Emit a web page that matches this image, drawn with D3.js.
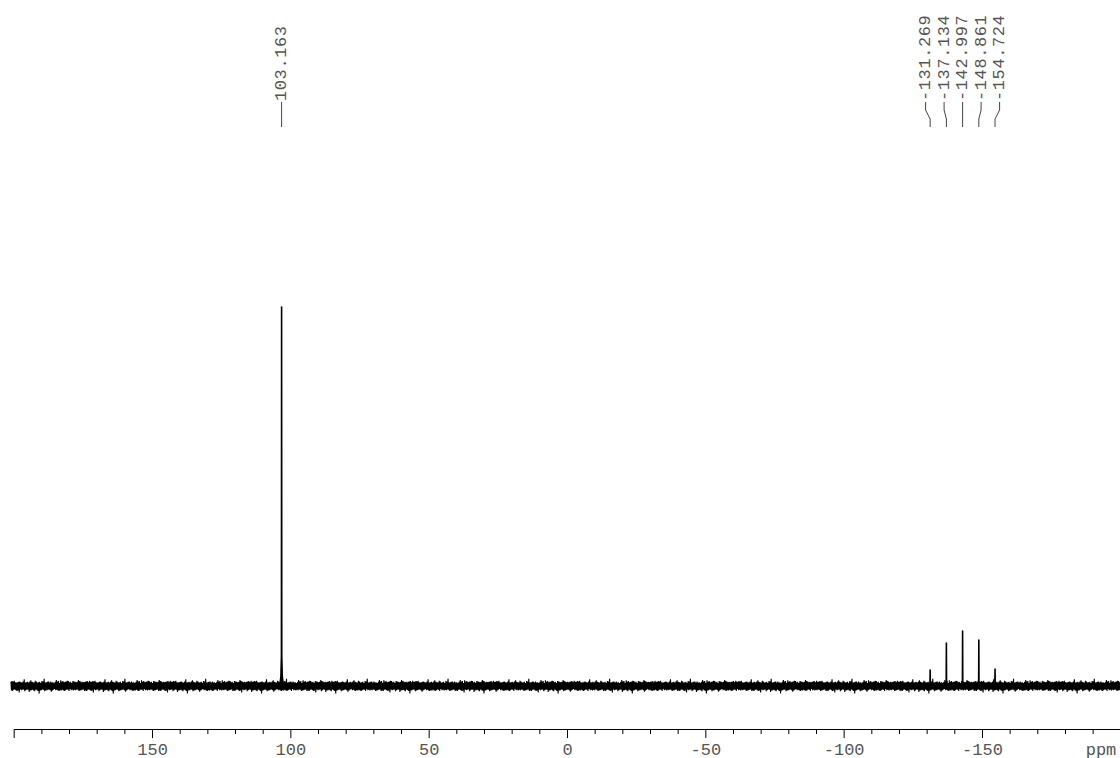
<!DOCTYPE html>
<html>
<head>
<meta charset="utf-8">
<script src="https://cdn.jsdelivr.net/npm/d3@7"></script>
<style>
  html, body { margin: 0; padding: 0; background: #fff; }
  svg { display: block; }
  .lbl { font-family: "Liberation Mono", "DejaVu Sans Mono", monospace; font-size: 17px; fill: #555; }
  .plbl { letter-spacing: 0.6px; }
</style>
</head>
<body>
<svg id="chart" width="1120" height="758"></svg>
<script>
// 13C spectrum: peak shifts (ppm) and relative intensities (tallest = 100)
const peakPpm = [103.163, -131.269, -137.134, -142.997, -148.861, -154.724];
const peakIntensity = [100, 4.2, 11.3, 14.5, 12.1, 4.5];

// axis tick values and their labels
const majorTicks = [200, 150, 100, 50, 0, -50, -100, -150];
const majorTickLabels = ["", "150", "100", "50", "0", "-50", "-100", "-150"];
const axisUnit = "ppm";

// baseline noise envelope (relative intensity units), upper and lower excursions
const noiseUp = [1.1,0.9,1.3,1.0,1.2,0.8,1.4,1.1,1.0,1.6,0.9,1.2,1.0,1.3,1.1,0.8,1.2,1.5,1.0,1.1,
  0.9,1.3,1.2,1.0,1.8,1.1,0.9,1.2,1.0,1.4,1.1,1.3,0.9,1.0,1.2,1.1,1.5,0.8,1.1,1.3,
  1.0,1.2,0.9,1.1,1.4,1.0,1.2,1.1,0.9,1.6,1.0,1.3,1.1,1.2,0.8,1.0,1.3,1.1,1.2,1.0,
  1.9,1.1,0.9,1.2,1.0,1.3,1.1,1.0,1.2,1.4,0.9,1.1,1.2];
const noiseDown = [1.0,1.2,0.9,1.3,1.1,1.0,1.5,0.9,1.2,1.1,1.0,1.3,0.8,1.2,1.1,1.7,1.0,0.9,1.2,1.1,
  1.3,1.0,1.1,0.9,1.2,1.4,1.0,1.1,1.2,0.9,1.3,1.0,1.1,1.6,0.9,1.2,1.0,1.1,1.3,1.0,
  0.8,1.2,1.1,1.4,1.0,0.9,1.2,1.1,1.0,1.3,1.1,2.0,0.9,1.2,1.0,1.1,1.3,0.9,1.2,1.0,
  1.1,1.4,1.0,1.2,0.9,1.1,1.3];

const svg = d3.select("#chart");

// scales: chemical shift decreases to the right
const x = d3.scaleLinear().domain([200, -200]).range([13.7, 1120.3]);
const y = d3.scaleLinear().domain([0, 100]).range([686, 307]);

// ---- baseline noise drawn as a dense zigzag trace ----
const step = 0.2;               // ppm between trace points
const noisePts = [];
let k = 0;
for (let p = 201; p >= -201; p -= step, k++) {
  const v = (k % 2 === 0) ? noiseUp[k % noiseUp.length] : -noiseDown[k % noiseDown.length];
  noisePts.push([p, v]);
}
const line = d3.line().x(d => x(d[0])).y(d => y(d[1]));
svg.append("path")
  .attr("d", line(noisePts))
  .attr("fill", "none")
  .attr("stroke", "#000")
  .attr("stroke-width", 1.1);

// ---- peaks ----
peakPpm.forEach((p, i) => {
  const h = peakIntensity[i];
  const shape = [
    [p + 0.7, 0], [p + 0.25, h * 0.025], [p + 0.06, h * 0.08],
    [p, h],
    [p - 0.06, h * 0.08], [p - 0.25, h * 0.025], [p - 0.7, 0]
  ];
  svg.append("path")
    .attr("d", line(shape))
    .attr("fill", "#000")
    .attr("stroke", "#000")
    .attr("stroke-width", 1.6)
    .attr("stroke-linejoin", "round");
});

// ---- peak labels with connectors ----
const labelGap = 18.5;
const peaks = peakPpm.map((p, i) => ({ ppm: p, px: x(p), text: p.toFixed(3) }))
  .sort((a, b) => a.px - b.px);
// cluster neighbouring peaks and spread their labels evenly around the cluster centre
const clusters = [];
peaks.forEach(pk => {
  const last = clusters[clusters.length - 1];
  if (last && pk.px - last[last.length - 1].px < labelGap + 2) last.push(pk);
  else clusters.push([pk]);
});
clusters.forEach(c => {
  const centre = (c[0].px + c[c.length - 1].px) / 2;
  c.forEach((pk, j) => { pk.lx = centre + (j - (c.length - 1) / 2) * labelGap; });
});

const labelBase = 101, kneeTop = 110, kneeBottom = 119, tipY = 127;
const lab = svg.append("g");
peaks.forEach(pk => {
  lab.append("text")
    .attr("class", "lbl plbl")
    .attr("transform", `translate(${pk.lx},${labelBase}) rotate(-90)`)
    .attr("dominant-baseline", "central")
    .attr("text-anchor", "start")
    .text(pk.text);
  lab.append("path")
    .attr("d", d3.line()([[pk.lx, labelBase + 1], [pk.lx, kneeTop], [pk.px, kneeBottom], [pk.px, tipY]]))
    .attr("fill", "none")
    .attr("stroke", "#444")
    .attr("stroke-width", 1);
});

// ---- x axis ----
const axisY = 729;
const minorTicks = d3.range(190, -200, -10).filter(v => v % 50 !== 0);

const gMinor = svg.append("g").attr("transform", `translate(0,${axisY})`)
  .call(d3.axisBottom(x).tickValues(minorTicks).tickSize(5).tickSizeOuter(0).tickFormat(""));
gMinor.select(".domain").attr("stroke", "#000");

const gMajor = svg.append("g").attr("transform", `translate(0,${axisY})`)
  .call(d3.axisBottom(x).tickValues(majorTicks).tickSize(9).tickSizeOuter(0)
    .tickFormat((d, i) => majorTickLabels[i]));
gMajor.select(".domain").remove();
gMajor.selectAll(".tick line").attr("stroke", "#000");
gMajor.selectAll(".tick text")
  .attr("class", "lbl")
  .attr("y", 0)
  .attr("dy", null)
  .attr("transform", "translate(0,25.5)");

svg.append("text")
  .attr("class", "lbl")
  .attr("x", 1101)
  .attr("y", axisY + 25.5)
  .attr("text-anchor", "middle")
  .text(axisUnit);
</script>
</body>
</html>
